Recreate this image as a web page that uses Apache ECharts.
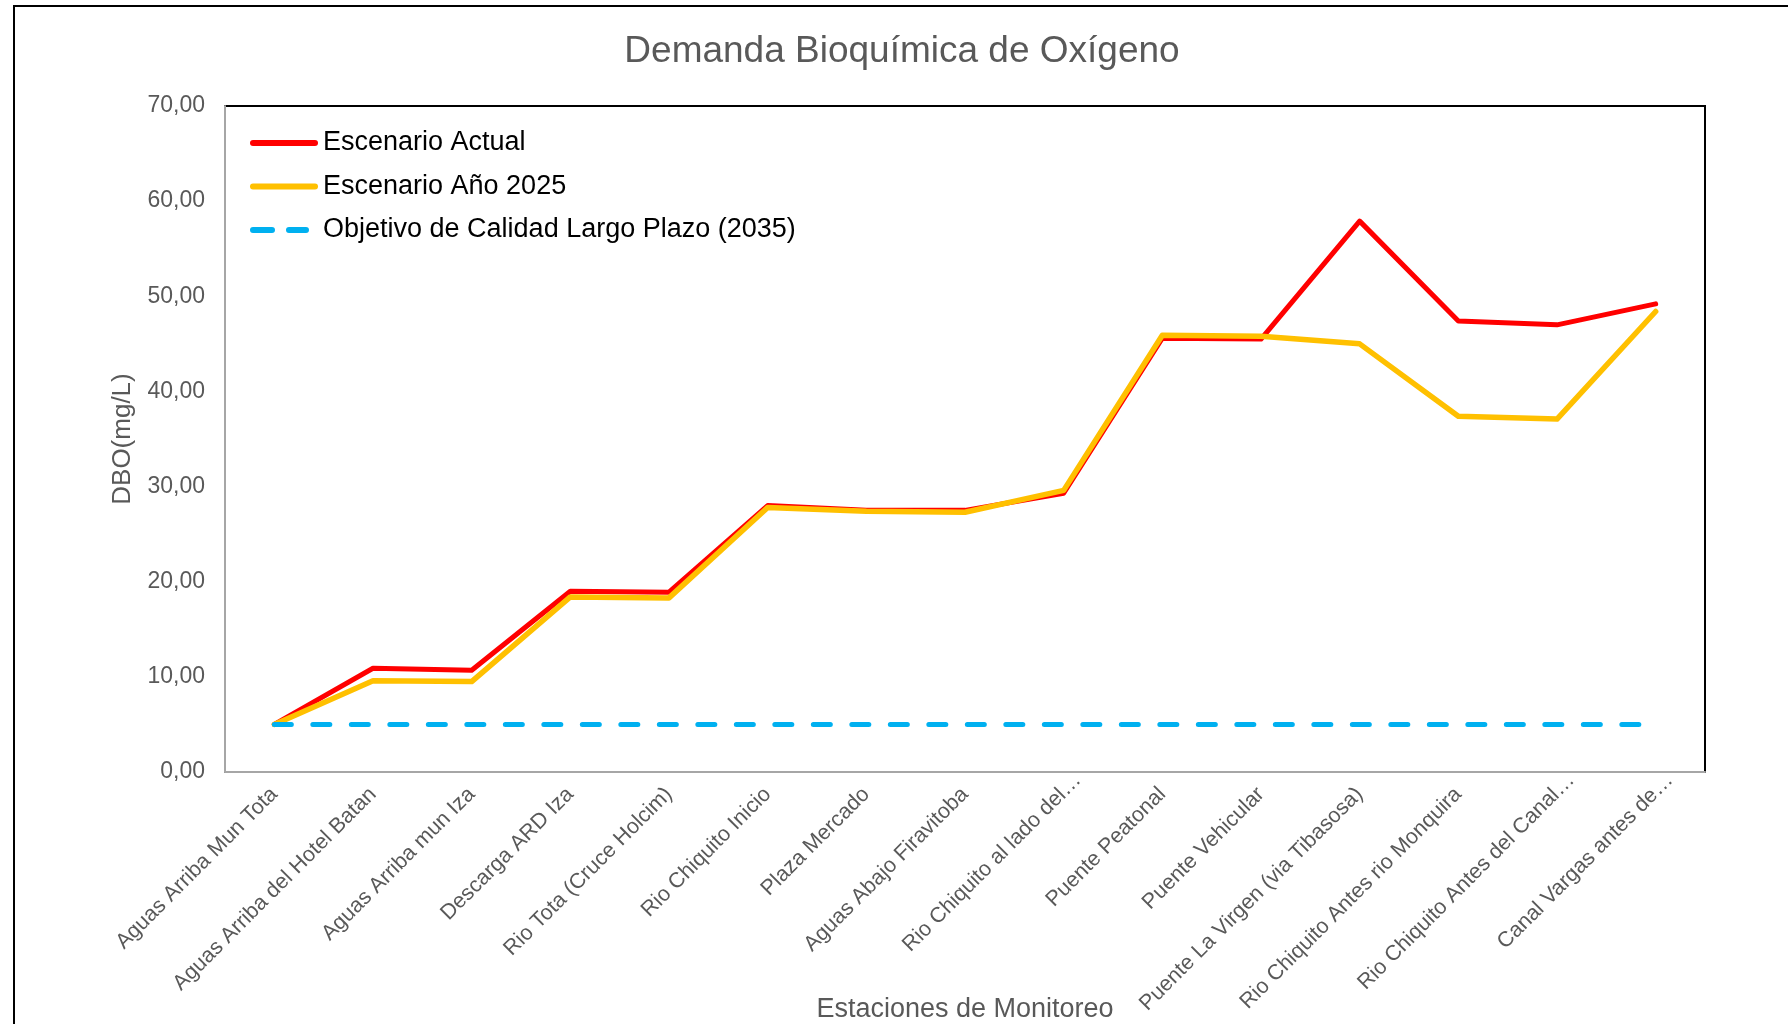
<!DOCTYPE html>
<html>
<head>
<meta charset="utf-8">
<script src="https://cdn.jsdelivr.net/npm/echarts@6/dist/echarts.min.js"></script>
<style>
html,body{margin:0;padding:0;background:#fff;}
#chart{width:1788px;height:1024px;}
</style>
</head>
<body>
<div id="chart"></div>
<script>
const categories = [
  'Aguas Arriba Mun Tota',
  'Aguas Arriba del Hotel Batan',
  'Aguas Arriba mun Iza',
  'Descarga ARD Iza',
  'Rio Tota (Cruce Holcim)',
  'Rio Chiquito Inicio',
  'Plaza Mercado',
  'Aguas Abajo Firavitoba',
  'Rio Chiquito al lado del…',
  'Puente Peatonal',
  'Puente Vehicular',
  'Puente La Virgen (via Tibasosa)',
  'Rio Chiquito Antes rio Monquira',
  'Rio Chiquito Antes del Canal…',
  'Canal Vargas antes de…'
];
const escenarioActual = [5.0, 10.9, 10.7, 19.0, 18.9, 28.0, 27.5, 27.5, 29.3, 45.6, 45.5, 57.9, 47.4, 47.0, 49.2];
const escenario2025 = [5.0, 9.6, 9.5, 18.4, 18.3, 27.8, 27.4, 27.3, 29.6, 45.9, 45.8, 45.0, 37.4, 37.1, 48.4];
const objetivo2035 = [5, 5, 5, 5, 5, 5, 5, 5, 5, 5, 5, 5, 5, 5, 5];
const yTicks = [0, 10, 20, 30, 40, 50, 60, 70];

const FONT = '"Liberation Sans", Arial, sans-serif';
const solidIcon = 'path://M3,0 L65,0 A3,3 0 0 1 65,6 L3,6 A3,3 0 0 1 3,0 Z';
const dashIcon = 'path://M3,0 L22,0 A3,3 0 0 1 22,6 L3,6 A3,3 0 0 1 3,0 Z M39,0 L56,0 A3,3 0 0 1 56,6 L39,6 A3,3 0 0 1 39,0 Z M67.9,2.9 L68,2.9 L68,3 Z M0,2.9 L0.1,2.9 L0.1,3 Z';

// truncated labels sit a little further up-right in the original
const xAxisData = categories.map(c => c.endsWith('…')
  ? {value: c, textStyle: {padding: [0, -20, 0, 0]}}
  : c);

const chart = echarts.init(document.getElementById('chart'), null, {renderer: 'canvas'});
const option = {
  backgroundColor: '#ffffff',
  animation: false,
  textStyle: {fontFamily: FONT},
  title: {
    text: 'Demanda Bioquímica de Oxígeno',
    left: 902,
    textAlign: 'center',
    top: 33,
    padding: 0,
    textStyle: {fontFamily: FONT, fontSize: 37, fontWeight: 'normal', color: '#595959'}
  },
  graphic: [{
    type: 'rect',
    shape: {x: 14, y: 6, width: 1800, height: 1040},
    style: {fill: 'none', stroke: '#000', lineWidth: 2},
    silent: true, z: 100
  }],
  legend: {
    orient: 'vertical',
    left: 250,
    top: 128,
    itemWidth: 68,
    itemHeight: 6,
    itemGap: 13.5,
    padding: 0,
    textStyle: {fontFamily: FONT, fontSize: 27, color: '#000', lineHeight: 30},
    data: [
      {name: 'Escenario Actual', icon: solidIcon},
      {name: 'Escenario Año 2025', icon: solidIcon},
      {name: 'Objetivo de Calidad Largo Plazo (2035)', icon: dashIcon}
    ]
  },
  grid: {
    left: 225, right: 83, top: 106, bottom: 252,
    containLabel: false,
    outerBoundsMode: 'none',
    show: true, borderColor: '#000', borderWidth: 2, backgroundColor: 'transparent'
  },
  xAxis: {
    type: 'category',
    data: xAxisData,
    boundaryGap: true,
    name: 'Estaciones de Monitoreo',
    nameLocation: 'middle',
    nameGap: 224,
    nameMoveOverlap: false,
    nameTextStyle: {fontFamily: FONT, fontSize: 27, color: '#595959'},
    axisLine: {show: true, lineStyle: {color: '#a6a6a6', width: 2}},
    axisTick: {show: false},
    axisLabel: {
      rotate: 45, interval: 0, margin: 19,
      fontFamily: FONT, fontSize: 21.5, color: '#595959'
    },
    splitLine: {show: false}
  },
  yAxis: {
    type: 'value',
    min: yTicks[0],
    max: yTicks[yTicks.length - 1],
    interval: 10,
    name: 'DBO(mg/L)',
    nameLocation: 'middle',
    nameGap: 89,
    nameMoveOverlap: false,
    nameTextStyle: {fontFamily: FONT, fontSize: 26, color: '#595959'},
    axisLine: {show: true, lineStyle: {color: '#a6a6a6', width: 2}},
    axisTick: {show: false},
    splitLine: {show: false},
    axisLabel: {
      margin: 20, fontFamily: FONT, fontSize: 23, color: '#595959',
      formatter: v => v.toFixed(2).replace('.', ',')
    }
  },
  series: [
    {
      name: 'Escenario Actual', type: 'line', data: escenarioActual,
      symbol: 'none', z: 2,
      lineStyle: {color: '#ff0000', width: 5, cap: 'round', join: 'round'},
      itemStyle: {color: '#ff0000'}
    },
    {
      name: 'Escenario Año 2025', type: 'line', data: escenario2025,
      symbol: 'none', z: 3,
      lineStyle: {color: '#ffc000', width: 5.5, cap: 'round', join: 'round'},
      itemStyle: {color: '#ffc000'}
    },
    {
      name: 'Objetivo de Calidad Largo Plazo (2035)', type: 'line', data: objetivo2035,
      symbol: 'none', z: 4,
      lineStyle: {color: '#00b0f0', width: 5, type: [17, 21.5], cap: 'round'},
      itemStyle: {color: '#00b0f0'}
    }
  ]
};
chart.setOption(option);
</script>
</body>
</html>
